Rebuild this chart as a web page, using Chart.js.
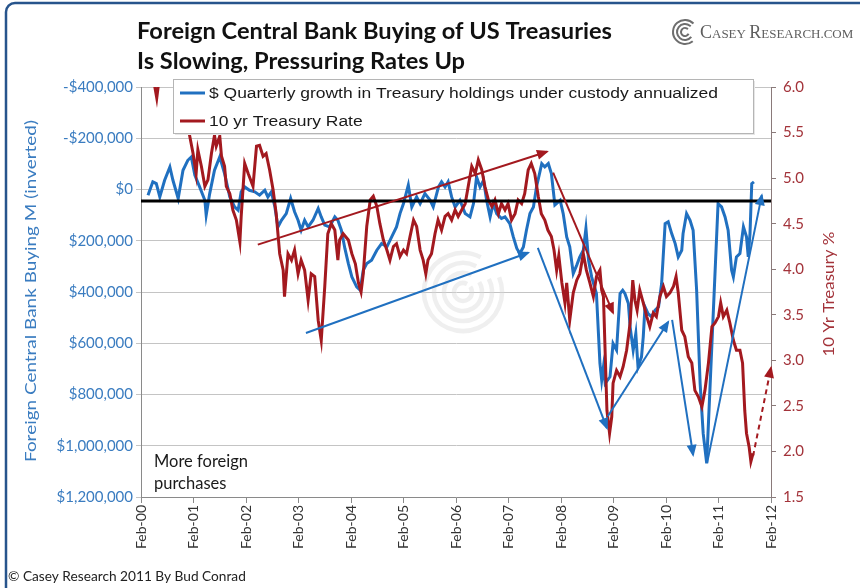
<!DOCTYPE html>
<html>
<head>
<meta charset="utf-8">
<title>Foreign Central Bank Buying of US Treasuries</title>
<script src="https://cdn.jsdelivr.net/npm/chart.js@4.4.1/dist/chart.umd.min.js"></script>
<style>
  html, body { margin: 0; padding: 0; background: #fff; }
  canvas { display: block; }
</style>
</head>
<body>
<canvas id="chart" width="860" height="588"></canvas>
<script>
// x = months since Feb-2000
const xLabels = ['Feb-00', 'Feb-01', 'Feb-02', 'Feb-03', 'Feb-04', 'Feb-05', 'Feb-06',
                 'Feb-07', 'Feb-08', 'Feb-09', 'Feb-10', 'Feb-11', 'Feb-12'];

// quarterly growth in custody holdings, annualized ($, inverted axis)
const custodyGrowth = [
  [1.6, 22000], [2.7, -30000], [3.5, -23000], [4.3, 29000], [5.4, -36000], [6.6, -88000],
  [7.3, -36000], [8.5, 35000], [9.6, -75000], [10.7, -114000], [11.5, -127000], [12.3, -56000],
  [13.4, -10000], [14.6, 42000], [14.9, 100000], [15.7, 16000], [16.8, -75000], [18.0, -127000],
  [19.1, -62000], [20.3, 29000], [21.4, 68000], [22.2, 81000], [22.9, 9000], [23.7, -10000],
  [24.8, 3000], [26.0, 9000], [27.1, 22000], [28.3, 3000], [29.0, 29000], [29.8, 9000],
  [30.6, 68000], [31.3, 146000], [32.1, 120000], [33.2, 94000], [34.2, 35000], [35.1, 87000],
  [35.9, 120000], [36.6, 159000], [37.4, 120000], [38.2, 146000], [39.3, 120000], [40.5, 74000],
  [41.2, 107000], [42.0, 139000], [43.1, 146000], [44.3, 107000], [45.0, 120000], [45.8, 159000],
  [46.6, 230000], [47.4, 289000], [48.2, 341000], [49.3, 380000], [50.1, 393000], [50.8, 315000],
  [51.6, 289000], [52.7, 276000], [53.9, 237000], [55.0, 211000], [56.2, 224000], [57.3, 185000],
  [58.4, 146000], [59.2, 94000], [60.0, 55000], [61.1, -17000], [61.9, 68000], [63.0, 29000],
  [63.8, 55000], [64.9, 16000], [66.1, 42000], [66.8, 68000], [68.0, -10000], [68.7, -30000],
  [69.5, -10000], [70.2, -30000], [71.0, 29000], [71.8, 68000], [72.9, 42000], [74.1, 94000],
  [75.2, 107000], [76.0, 55000], [76.7, -49000], [77.5, -10000], [78.3, -36000], [79.0, 42000],
  [79.8, 107000], [80.5, 55000], [81.3, 94000], [82.4, 113000], [83.2, 107000], [84.3, 133000],
  [85.1, 185000], [85.9, 230000], [86.6, 250000], [87.4, 224000], [88.1, 159000], [88.9, 94000],
  [89.7, 68000], [90.4, -10000], [91.6, -101000], [92.3, -88000], [93.1, -101000], [93.8, -62000],
  [94.6, 60000], [95.8, 42000], [96.5, 94000], [97.3, 185000], [98.0, 224000], [98.8, 328000],
  [99.6, 295000], [100.3, 263000], [101.1, 237000], [101.7, 152000], [102.3, 276000], [103.0, 341000],
  [104.1, 406000], [104.9, 679000], [105.3, 744000], [105.7, 692000], [106.1, 757000], [107.2, 731000],
  [107.9, 601000], [108.7, 627000], [109.5, 406000], [110.1, 393000], [110.6, 406000], [111.4, 445000],
  [111.8, 536000], [112.5, 627000], [113.1, 562000], [113.6, 692000], [114.4, 653000], [114.8, 575000],
  [115.2, 458000], [115.9, 484000], [116.7, 497000], [117.5, 471000], [118.3, 458000], [119.0, 367000],
  [119.8, 133000], [120.5, 126000], [121.3, 172000], [122.1, 211000], [122.8, 263000], [123.6, 237000],
  [123.9, 172000], [124.7, 94000], [125.5, 120000], [126.2, 159000], [127.0, 393000], [127.8, 757000],
  [128.5, 952000], [129.3, 1069000], [131.9, 55000], [132.7, 68000], [133.5, 107000], [134.2, 159000],
  [135.0, 315000], [135.4, 341000], [136.1, 263000], [136.9, 250000], [137.7, 146000], [138.4, 185000],
  [138.8, 263000], [139.2, 172000], [139.6, -23000], [140.1, -30000]
];

// 10 yr Treasury rate (%)
const treasuryRate = [
  [0, 6.45], [1.5, 6.3], [2.8, 6.1], [3.6, 5.88], [4.3, 6.15], [5.5, 6.3], [7.0, 6.1], [8.5, 5.95],
  [10.0, 5.75], [11.1, 5.47], [11.9, 5.27], [12.6, 5.05], [13.0, 5.31], [13.8, 5.13], [14.6, 4.91],
  [15.3, 4.98], [16.1, 5.27], [16.8, 5.47], [17.2, 5.35], [18.0, 5.46], [18.4, 5.24], [19.1, 5.13],
  [19.5, 4.91], [20.3, 4.83], [21.0, 4.65], [21.8, 4.54], [22.6, 4.30], [22.9, 4.58], [23.7, 5.16],
  [24.5, 5.05], [25.6, 4.91], [26.4, 5.35], [27.1, 5.36], [27.9, 5.24], [28.6, 5.27], [29.4, 5.09],
  [30.2, 4.87], [30.9, 4.61], [31.7, 4.17], [32.5, 3.99], [32.8, 3.70], [33.6, 4.17], [34.4, 4.10],
  [35.1, 4.21], [35.9, 3.95], [36.6, 4.10], [37.4, 3.99], [38.2, 3.66], [38.9, 3.95], [39.7, 3.92],
  [40.5, 3.44], [41.2, 3.22], [42.0, 3.81], [42.7, 4.39], [43.5, 4.50], [44.3, 4.43], [45.0, 4.10],
  [45.4, 4.32], [46.2, 4.39], [47.4, 4.32], [48.2, 4.17], [49.0, 4.06], [49.7, 3.85], [50.3, 3.75],
  [50.8, 3.95], [51.6, 4.47], [52.4, 4.76], [53.1, 4.80], [53.9, 4.69], [54.6, 4.50], [55.4, 4.32],
  [56.2, 4.21], [56.9, 4.10], [57.7, 4.25], [58.4, 4.28], [59.2, 4.14], [60.0, 4.21], [60.7, 4.17],
  [61.5, 4.36], [62.3, 4.54], [63.0, 4.47], [63.8, 4.21], [64.5, 4.10], [65.1, 3.95], [65.6, 4.10],
  [66.4, 4.17], [67.2, 4.39], [67.9, 4.54], [68.7, 4.43], [69.5, 4.58], [70.2, 4.61], [71.0, 4.54],
  [71.8, 4.65], [72.5, 4.58], [73.3, 4.65], [74.1, 4.72], [74.8, 4.91], [75.6, 5.13], [76.4, 5.05],
  [77.1, 5.20], [77.9, 5.09], [78.6, 4.91], [79.4, 4.76], [80.2, 4.69], [80.9, 4.76], [81.7, 4.61],
  [82.4, 4.72], [83.2, 4.65], [83.9, 4.72], [84.7, 4.54], [85.5, 4.61], [86.2, 4.76], [87.0, 4.72],
  [87.7, 4.83], [88.5, 5.09], [89.2, 5.16], [90.0, 5.05], [90.8, 4.80], [91.5, 4.61], [92.3, 4.54],
  [93.0, 4.43], [93.8, 4.36], [94.4, 4.21], [95.0, 3.99], [95.5, 4.15], [96.2, 3.85], [96.9, 3.63],
  [97.3, 3.85], [98.0, 3.44], [98.8, 3.74], [99.6, 3.88], [100.3, 3.95], [101.1, 4.17], [101.8, 3.99],
  [102.6, 3.85], [103.4, 3.70], [104.1, 3.92], [104.9, 3.99], [105.3, 3.77], [105.7, 3.70], [106.5, 2.45],
  [107.1, 2.20], [107.6, 2.38], [107.9, 2.75], [108.7, 2.89], [109.5, 2.82], [110.2, 2.93], [111.0, 3.11],
  [111.8, 3.41], [112.4, 3.88], [112.9, 3.66], [113.4, 3.55], [114.0, 3.77], [114.8, 3.63], [115.6, 3.48],
  [116.3, 3.37], [117.1, 3.52], [117.8, 3.48], [118.6, 3.70], [119.4, 3.81], [120.1, 3.70], [120.9, 3.74],
  [121.7, 3.81], [122.3, 3.92], [122.8, 3.74], [123.6, 3.33], [124.3, 3.26], [125.1, 3.04], [125.9, 2.97],
  [126.6, 2.67], [127.4, 2.60], [128.2, 2.49], [128.9, 2.67], [129.7, 2.97], [130.5, 3.37], [131.2, 3.41],
  [132.0, 3.48], [132.5, 3.63], [133.1, 3.48], [133.9, 3.55], [134.6, 3.41], [135.4, 3.22], [136.1, 3.11],
  [136.9, 3.11], [137.5, 2.97], [138.0, 2.45], [138.4, 2.20], [139.0, 2.05], [139.4, 1.89], [139.9, 1.98]
];

// long-run reference level drawn across the whole period
const referenceLevel = 45000;

// hand-drawn trend arrows
const rateUptrend = [[26.7, 4.27], [92.8, 5.29]];
const rateDowntrend = [[94.2, 5.06], [107.9, 3.52]];
const rateProjection = [[139.9, 1.95], [144.0, 2.92]];
const flowUptrend = [[37.7, 560000], [88.5, 247000]];
const flowCrash = [[90.7, 228000], [106.5, 931000]];
const flowRebound = [[106.7, 885000], [120.5, 517000]];
const flowSecondDrop = [[121.4, 509000], [126.2, 1036000]];
const flowSecondRebound = [[129.4, 1067000], [141.9, 22000]];

const BLUE = '#2070c0';
const RED = '#a3191f';
const BLUE_TEXT = '#3a7cc0';
const RED_TEXT = '#a3333a';
const CAL = 'Lato, "Open Sans", sans-serif';

const toXY = pts => pts.map(([x, y]) => ({ x: x, y: y }));

function arrowSet(pts, axis, color, extra) {
  return Object.assign({
    data: toXY(pts),
    yAxisID: axis,
    borderColor: color,
    backgroundColor: color,
    borderWidth: 2,
    pointRadius: 0,
    order: 1,
    clip: false,
    arrowHead: true
  }, extra || {});
}

// text squeezed/stretched along its baseline by a given factor
function fillScaled(ctx, text, x, y, sx) {
  ctx.save();
  ctx.translate(x, y);
  ctx.scale(sx, 1);
  ctx.fillText(text, 0, 0);
  ctx.restore();
}

// vertical axis title, reading bottom to top, centred on (x, y) and spanning `span` px
function verticalTitle(ctx, text, x, y, span, color, size) {
  ctx.save();
  ctx.translate(x, y);
  ctx.rotate(-Math.PI / 2);
  ctx.font = size + 'px ' + CAL;
  ctx.fillStyle = color;
  ctx.textAlign = 'left';
  const w = ctx.measureText(text).width;
  ctx.scale(span / w, 1);
  ctx.fillText(text, -w / 2, 0);
  ctx.restore();
}

// draws arrowheads, legend box, titles and the rest of the decoration
const decorations = {
  id: 'decorations',
  beforeDatasetsDraw(chart) {
    const ctx = chart.ctx;
    ctx.save();
    ctx.strokeStyle = 'rgba(215,215,215,0.4)';
    ctx.lineWidth = 4.5;
    [9, 19, 29, 39].forEach((r, i) => {
      ctx.beginPath();
      ctx.arc(463, 292, r, -0.2 * Math.PI + i * 0.08, 1.65 * Math.PI);
      ctx.stroke();
    });
    ctx.restore();
  },
  afterDatasetsDraw(chart) {
    const ctx = chart.ctx;
    ctx.save();
    chart.data.datasets.forEach((ds, i) => {
      if (!ds.arrowHead) return;
      const pts = chart.getDatasetMeta(i).data;
      const a = pts[pts.length - 2], b = pts[pts.length - 1];
      const ang = Math.atan2(b.y - a.y, b.x - a.x);
      const len = 10, half = 5;
      ctx.fillStyle = ds.borderColor;
      ctx.beginPath();
      ctx.moveTo(b.x + Math.cos(ang) * 2, b.y + Math.sin(ang) * 2);
      ctx.lineTo(b.x - Math.cos(ang) * len - Math.sin(ang) * half, b.y - Math.sin(ang) * len + Math.cos(ang) * half);
      ctx.lineTo(b.x - Math.cos(ang) * len + Math.sin(ang) * half, b.y - Math.sin(ang) * len - Math.cos(ang) * half);
      ctx.closePath();
      ctx.fill();
    });

    // legend box inside the plot
    const bx = 173, by = 79, bw = 580, bh = 54;
    ctx.fillStyle = '#e6e6e6';
    ctx.fillRect(bx + 2, by + 2, bw, bh);
    ctx.fillStyle = '#ffffff';
    ctx.fillRect(bx, by, bw, bh);
    ctx.strokeStyle = '#b5b5b5';
    ctx.lineWidth = 1;
    ctx.strokeRect(bx + 0.5, by + 0.5, bw, bh);
    const items = [
      ['$ Quarterly growth in Treasury holdings under custody annualized', BLUE, 93],
      ['10 yr Treasury Rate', RED, 121]
    ];
    ctx.font = '15.5px "Liberation Sans", Arial, sans-serif';
    ctx.textBaseline = 'middle';
    const legendScale = 509 / ctx.measureText(items[0][0]).width;
    items.forEach(([label, color, y]) => {
      ctx.strokeStyle = color;
      ctx.lineWidth = 3;
      ctx.beginPath();
      ctx.moveTo(180, y);
      ctx.lineTo(205, y);
      ctx.stroke();
      ctx.fillStyle = '#1a1a1a';
      fillScaled(ctx, label, 209, y + 1, legendScale);
    });
    ctx.restore();
  },
  afterDraw(chart) {
    const ctx = chart.ctx;
    ctx.save();
    ctx.textBaseline = 'middle';

    // title
    const title1 = 'Foreign Central Bank Buying of US Treasuries';
    ctx.fillStyle = '#111';
    ctx.font = 'bold 22.5px ' + CAL;
    const titleScale = 475 / ctx.measureText(title1).width;
    fillScaled(ctx, title1, 137, 32, titleScale);
    fillScaled(ctx, 'Is Slowing, Pressuring Rates Up', 137, 62, titleScale);

    // axis titles
    verticalTitle(ctx, 'Foreign Central Bank Buying M (inverted)', 31, 291, 342, BLUE_TEXT, 16);
    verticalTitle(ctx, '10 Yr Treasury %', 829, 294, 125, RED_TEXT, 15.5);

    // note in the lower-left corner of the plot
    ctx.fillStyle = '#1a1a1a';
    ctx.font = '16.5px ' + CAL;
    ctx.fillText('More foreign', 154, 462);
    ctx.fillText('purchases', 154, 484);

    // footer
    ctx.font = '13.7px ' + CAL;
    ctx.fillStyle = '#222';
    ctx.fillText('\u00A9 Casey Research 2011 By Bud Conrad', 8, 577);

    // logo: swirl + small caps wordmark
    ctx.strokeStyle = '#6e6e6e';
    ctx.lineWidth = 2;
    [4, 8, 12].forEach((r, i) => {
      ctx.beginPath();
      ctx.arc(685, 32, r, 0.15 * Math.PI + i * 0.2, 1.75 * Math.PI);
      ctx.stroke();
    });
    let lx = 700;
    const parts = [['C', 18], ['ASEY ', 13], ['R', 18], ['ESEARCH.COM', 13]];
    ctx.fillStyle = '#5e5e5e';
    ctx.textBaseline = 'alphabetic';
    parts.forEach(([t, s]) => {
      ctx.font = s + 'px "Liberation Serif", "DejaVu Serif", serif';
      ctx.fillText(t, lx, 38);
      lx += ctx.measureText(t).width;
    });

    // frame
    ctx.strokeStyle = '#27548c';
    ctx.lineWidth = 2.5;
    ctx.beginPath();
    ctx.moveTo(6, 600);
    ctx.lineTo(6, 12);
    ctx.arcTo(6, 3, 15, 3, 9);
    ctx.lineTo(870, 3);
    ctx.stroke();
    ctx.restore();
  }
};

new Chart(document.getElementById('chart'), {
  type: 'line',
  data: {
    datasets: [
      {
        data: [{ x: 0, y: referenceLevel }, { x: 144, y: referenceLevel }],
        yAxisID: 'y',
        borderColor: '#000',
        borderWidth: 3,
        pointRadius: 0,
        order: 2
      },
      arrowSet(rateUptrend, 'y1', RED),
      arrowSet(rateDowntrend, 'y1', RED),
      arrowSet(rateProjection, 'y1', RED, { borderDash: [5, 4] }),
      arrowSet(flowUptrend, 'y', BLUE),
      arrowSet(flowCrash, 'y', BLUE),
      arrowSet(flowRebound, 'y', BLUE),
      arrowSet(flowSecondDrop, 'y', BLUE),
      arrowSet(flowSecondRebound, 'y', BLUE),
      {
        label: '10 yr Treasury Rate',
        data: toXY(treasuryRate),
        yAxisID: 'y1',
        borderColor: RED,
        borderWidth: 3,
        pointRadius: 0,
        order: 4
      },
      {
        label: '$ Quarterly growth in Treasury holdings under custody annualized',
        data: toXY(custodyGrowth),
        yAxisID: 'y',
        borderColor: BLUE,
        borderWidth: 3,
        pointRadius: 0,
        order: 5
      }
    ]
  },
  options: {
    responsive: false,
    animation: false,
    layout: { padding: { top: 87, left: 0, right: 0, bottom: 0 } },
    plugins: { legend: { display: false }, tooltip: { enabled: false } },
    scales: {
      x: {
        type: 'linear',
        min: 0,
        max: 144,
        afterFit: s => { s.height = 91; },
        grid: { drawOnChartArea: false, tickLength: 6, color: '#8a8a8a' },
        border: { color: '#8a8a8a' },
        ticks: {
          stepSize: 12,
          autoSkip: false,
          maxRotation: 90,
          minRotation: 90,
          padding: 2,
          color: '#333',
          font: { family: CAL, size: 14 },
          callback: v => xLabels[v / 12]
        }
      },
      y: {
        position: 'left',
        reverse: true,
        min: -400000,
        max: 1200000,
        afterFit: s => { s.width = 141; },
        grid: { color: '#c4c4c4', tickLength: 5 },
        border: { color: '#8a8a8a' },
        ticks: {
          stepSize: 200000,
          padding: 3,
          color: BLUE_TEXT,
          font: { family: CAL, size: 15 },
          callback: v => (v < 0 ? '-$' : '$') + Math.abs(v).toLocaleString('en-US')
        }
      },
      y1: {
        position: 'right',
        min: 1.5,
        max: 6.0,
        afterFit: s => { s.width = 89; },
        grid: { drawOnChartArea: false, tickLength: 5, color: '#8a7a7a' },
        border: { color: '#8a7a7a' },
        ticks: {
          stepSize: 0.5,
          padding: 7,
          color: RED_TEXT,
          font: { family: CAL, size: 15 },
          callback: v => v.toFixed(1)
        }
      }
    }
  },
  plugins: [decorations]
});
</script>
</body>
</html>
